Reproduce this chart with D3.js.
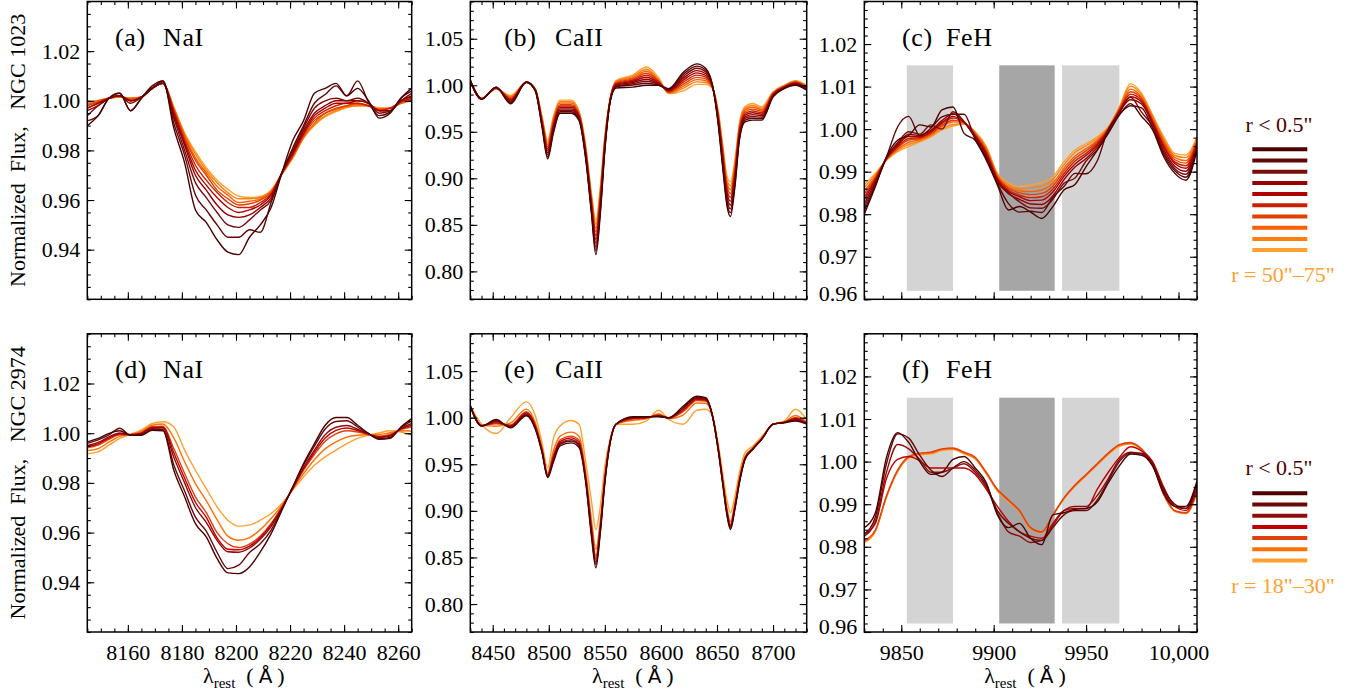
<!DOCTYPE html>
<html>
<head>
<meta charset="utf-8">
<script src="https://cdn.jsdelivr.net/npm/d3@7"></script>
<style>
body{margin:0;background:#fff;}
text{font-family:"Liberation Serif","Times New Roman",serif;}
</style>
</head>
<body>
<svg width="1369" height="693"></svg>
<script>
// wavelength grids (rest frame, Angstrom)
var waveNa = [8145,8149,8153,8157,8161,8165,8169,8173,8177,8181,8185,8189,8193,8197,8201,8205,8209,8213,8217,8221,8225,8229,8233,8237,8241,8245,8249,8253,8257,8261,8265];
var waveCa = [8430,8440,8453,8466,8480,8488,8494,8499,8504,8510,8520,8527,8533,8538,8542,8546,8550,8555,8560,8575,8587,8598,8607,8620,8632,8640,8646,8651,8655,8659,8662,8666,8670,8675,8682,8690,8700,8710,8720,8730];
var waveFe = [9830,9836,9842,9848,9854,9860,9866,9872,9878,9884,9890,9896,9902,9908,9914,9920,9926,9932,9938,9944,9950,9956,9962,9968,9974,9980,9986,9992,9998,10004,10010];

// NGC 1023 spectra, innermost (r<0.5") first, outermost last
var n1023Na = [
 [.990,.994,1.001,1.003,.996,1.001,1.006,1.008,.989,.975,.956,.951,.944,.939,.938,.945,.950,.957,.971,.984,.992,1.003,1.005,1.007,1.002,1.005,1.000,.993,.995,1.001,1.005],
 [.992,.994,1.001,1.003,.996,1.001,1.005,1.008,.991,.978,.962,.956,.950,.945,.945,.948,.947,.959,.971,.981,.990,.999,1.0025,1.006,1.002,1.008,.9995,.994,.9955,1.001,1.004],
 [.994,.998,1.001,1.002,.999,1.0015,1.005,1.0075,.993,.980,.967,.961,.955,.950,.949,.952,.956,.960,.971,.980,.989,.997,1.000,1.001,1.000,1.001,.999,.995,.996,1.000,1.003],
 [.996,.998,1.001,1.002,1.000,1.0015,1.005,1.007,.994,.982,.970,.964,.958,.954,.953,.954,.957,.961,.971,.979,.988,.995,.998,1.000,1.000,1.000,.999,.996,.996,1.000,1.002],
 [.997,.999,1.001,1.002,1.000,1.0015,1.005,1.007,.995,.983,.972,.966,.961,.957,.955,.956,.958,.962,.971,.979,.987,.994,.997,.999,.999,1.000,.999,.996,.996,1.000,1.0015],
 [.997,.999,1.001,1.002,1.000,1.0015,1.005,1.007,.996,.984,.974,.968,.963,.959,.957,.957,.959,.9625,.971,.978,.9865,.993,.996,.998,.999,.999,.998,.996,.997,.9995,1.001],
 [.998,.9995,1.001,1.002,1.0005,1.0015,1.005,1.007,.996,.985,.976,.970,.964,.9605,.958,.9585,.960,.963,.9705,.978,.986,.992,.995,.997,.998,.999,.998,.9965,.997,.9995,1.001],
 [.9985,1.000,1.001,1.0015,1.001,1.0015,1.005,1.007,.997,.986,.977,.971,.9655,.962,.959,.9595,.9605,.9635,.9705,.9775,.9855,.991,.995,.9965,.998,.9985,.998,.9965,.997,.999,1.0005],
 [.999,1.000,1.001,1.0015,1.001,1.0015,1.005,1.007,.997,.9865,.9785,.972,.967,.963,.9605,.9605,.961,.9635,.9705,.977,.985,.9905,.994,.996,.9975,.998,.998,.997,.997,.999,1.000],
 [.9995,1.000,1.001,1.0015,1.001,1.0015,1.005,1.007,.9975,.987,.9795,.973,.968,.9643,.9616,.961,.9614,.964,.9705,.977,.985,.990,.9936,.9956,.9973,.998,.998,.997,.997,.999,1.000]
];
var n1023Ca = [
 [1.005,.985,.998,.980,1.0035,.994,.955,.921,.948,.970,.970,.962,.920,.8625,.818,.8625,.930,.984,.997,.998,1.000,1.000,.9964,1.014,1.023,1.018,1.000,.959,.9125,.8696,.859,.891,.941,.9607,.9625,.9625,.9875,.9964,1.000,.9946],
 [1.005,.985,.998,.981,1.0035,.994,.956,.923,.950,.9715,.9715,.963,.9215,.865,.822,.8656,.9317,.9844,.9983,1.0003,1.0022,.9999,.9958,1.0119,1.0206,1.0161,.9996,.9605,.9153,.8731,.8631,.8941,.943,.9625,.9645,.9641,.9881,.9968,1.0006,.9952],
 [1.005,.9852,.9976,.982,1.0034,.9944,.9574,.9254,.952,.9731,.9731,.9642,.9231,.8672,.8261,.8688,.9333,.9848,.9992,1.0016,1.0043,1.0008,.9952,1.0097,1.0182,1.0143,.9992,.9621,.918,.8767,.8672,.8973,.945,.9643,.9664,.9657,.9887,.9972,1.0011,.9958],
 [1.005,.9853,.9973,.983,1.0033,.9947,.9586,.9276,.9539,.9746,.9746,.9653,.9246,.8696,.8302,.8719,.935,.9852,1.000,1.003,1.0065,1.0016,.9946,1.0076,1.0157,1.0124,.9988,.9636,.9208,.8802,.8713,.9004,.9469,.9661,.9684,.9673,.9893,.9976,1.0017,.9964],
 [1.005,.9854,.9971,.984,1.0033,.9949,.9598,.9298,.9559,.9762,.9762,.9664,.9262,.872,.8343,.875,.9366,.9855,1.0008,1.0043,1.0086,1.0025,.994,1.0055,1.0133,1.0105,.9984,.9652,.9235,.8838,.8755,.9036,.9489,.9679,.9704,.9689,.9899,.998,1.0022,.997],
 [1.005,.9856,.9969,.985,1.0032,.9951,.961,.932,.9579,.9777,.9777,.9675,.9277,.8743,.8384,.8782,.9383,.9859,1.0016,1.0056,1.0108,1.0034,.9934,1.0033,1.0109,1.0087,.998,.9667,.9263,.8873,.8796,.9067,.9509,.9697,.9723,.9705,.9905,.9984,1.0028,.9976],
 [1.005,.9857,.9967,.9859,1.0032,.9953,.9623,.9342,.9599,.9792,.9792,.9686,.9292,.8767,.8424,.8813,.9399,.9863,1.0025,1.0069,1.0129,1.0043,.9928,1.0012,1.0085,1.0068,.9976,.9682,.929,.8909,.8837,.9099,.9529,.9715,.9743,.9721,.9911,.9988,1.0033,.9982],
 [1.005,.9858,.9965,.9869,1.0031,.9955,.9635,.9364,.9619,.9808,.9808,.9697,.9308,.8791,.8465,.8844,.9416,.9867,1.0033,1.0082,1.0151,1.0052,.9922,.999,1.0061,1.0049,.9972,.9698,.9318,.8944,.8878,.913,.9549,.9733,.9763,.9737,.9917,.9992,1.0039,.9988],
 [1.005,.9859,.9962,.9879,1.0031,.9958,.9647,.9386,.9638,.9823,.9823,.9708,.9323,.8814,.8506,.8876,.9432,.9871,1.0041,1.0096,1.0172,1.006,.9916,.9969,1.0036,1.003,.9968,.9713,.9345,.8979,.8919,.9162,.9568,.9751,.9783,.9753,.9923,.9996,1.0044,.9994],
 [1.005,.986,.996,.989,1.003,.996,.966,.941,.966,.984,.984,.972,.934,.884,.855,.891,.945,.9875,1.005,1.011,1.0196,1.008,.991,.994,1.001,1.001,.9964,.973,.9375,.9018,.8964,.9196,.959,.977,.9804,.977,.993,1.000,1.005,1.000]
];
var n1023Fe = [
 [.980,.9865,.9935,.9974,.9985,1.001,1.0005,1.0045,1.0052,.999,.9974,.9927,.9869,.981,.9818,.9805,.979,.9818,.9857,.987,.9912,.995,.999,1.0033,1.006,1.003,.9998,.9935,.9896,.988,.9951],
 [.9808,.9869,.9934,1.0005,1.003,.9985,1.0002,1.0029,1.0035,1.0035,.9976,.9931,.9872,.9825,.9805,.9807,.9804,.984,.9865,.9896,.9895,.9925,1.000,1.0035,1.0055,1.005,1.0002,.9941,.9902,.9887,.9955],
 [.9817,.9872,.9933,.9968,.9994,.9988,1.001,1.000,1.0041,1.0018,.9979,.9935,.9875,.985,.9829,.9815,.9814,.9835,.9873,.9885,.9925,.9952,.9994,1.0038,1.0075,1.004,1.0006,.9946,.9907,.9894,.9958],
 [.9825,.9876,.9932,.9964,.9988,.9985,.9997,1.002,1.0036,1.0017,.9981,.9939,.9879,.9848,.9835,.9824,.9823,.9843,.9881,.9911,.9931,.9957,.9995,1.004,1.0069,1.0059,1.0011,.9952,.9913,.9901,.9962],
 [.9834,.988,.9931,.9961,.9983,.9982,.9994,1.0016,1.003,1.0016,.9984,.9942,.9882,.9853,.9841,.9832,.9833,.9852,.9889,.9918,.9938,.9962,.9997,1.0042,1.0076,1.0064,1.0015,.9958,.9919,.9908,.9966],
 [.9841,.9883,.993,.9958,.9978,.998,.9992,1.0013,1.0026,1.0015,.9986,.9946,.9885,.9857,.9845,.9839,.9841,.9859,.9895,.9925,.9943,.9966,.9999,1.0044,1.0082,1.0068,1.0018,.9962,.9923,.9914,.9969],
 [.9848,.9886,.993,.9956,.9974,.9978,.9989,1.0009,1.0021,1.0015,.9988,.9949,.9887,.9861,.985,.9846,.9849,.9866,.9902,.9931,.9949,.997,1.000,1.0046,1.0088,1.0072,1.0022,.9967,.9928,.992,.9972],
 [.9855,.9889,.9929,.9953,.9969,.9975,.9987,1.0006,1.0017,1.0014,.999,.9952,.989,.9864,.9855,.9853,.9857,.9873,.9908,.9937,.9954,.9973,1.0002,1.0048,1.0094,1.0075,1.0025,.9972,.9933,.9926,.9975],
 [.9863,.9893,.9928,.995,.9964,.9972,.9984,1.0001,1.0011,1.0013,.9992,.9956,.9893,.9869,.986,.9862,.9866,.9881,.9916,.9945,.9961,.9978,1.0004,1.005,1.0101,1.008,1.003,.9977,.9938,.9933,.9979],
 [.987,.9896,.9927,.9947,.9959,.997,.9982,.9998,1.0007,1.0012,.9994,.9959,.9896,.9873,.9865,.9869,.9874,.9888,.9923,.9951,.9966,.9982,1.0005,1.0052,1.0107,1.0084,1.0033,.9982,.9943,.9939,.9982]
];

// NGC 2974 spectra, innermost first
var n2974Na = [
 [.9965,.9979,.9999,1.001,.9992,.9992,1.0012,1.001,.9851,.9744,.9636,.9583,.9496,.9438,.9435,.9462,.9522,.9596,.969,.9784,.9878,.9958,1.0032,1.0063,1.0063,1.0032,.9999,.9975,.9979,1.0025,1.0059],
 [.9959,.9973,.9993,1.002,.9992,.9994,1.0015,1.0014,.9872,.9767,.9662,.9606,.9521,.9455,.9469,.952,.9555,.961,.9695,.9783,.9872,.9948,1.0017,1.0047,1.005,1.0025,.9998,.9978,.9983,1.0022,1.005],
 [.995,.9963,.9985,1.0001,.9993,.9998,1.002,1.0021,.9903,.980,.9701,.9641,.9569,.9523,.9521,.9538,.9573,.9624,.9698,.978,.9862,.9932,.9994,1.0024,1.0031,1.0016,.9997,.9983,.9988,1.0019,1.0039],
 [.9946,.9957,.998,.9998,.9994,1.000,1.0023,1.0024,.9921,.9819,.9722,.9661,.9579,.9533,.9531,.9546,.958,.9632,.9701,.9779,.9856,.9923,.9981,1.0011,1.0021,1.0011,.9996,.9985,.9991,1.0017,1.0032],
 [.9941,.9952,.9975,.9994,.9994,1.0002,1.0026,1.0028,.9938,.9838,.9744,.968,.960,.9555,.954,.9554,.9586,.9637,.9704,.9777,.9851,.9914,.9968,.9997,1.001,1.0005,.9995,.9988,.9995,1.0015,1.0025],
 [.993,.9938,.9964,.9987,.9995,1.0007,1.0032,1.0037,.9981,.9885,.9797,.9729,.9652,.9586,.9569,.958,.9612,.9657,.971,.9774,.9837,.9893,.9937,.9965,.9984,.9992,.9994,.9995,1.0002,1.001,1.0009],
 [.9918,.9925,.9952,.9979,.9996,1.0012,1.0039,1.0046,1.0025,.9932,.9851,.9777,.9704,.965,.9626,.963,.965,.9677,.9717,.9771,.9824,.9871,.9905,.9932,.9958,.9979,.9992,1.0001,1.001,1.0005,.9992]
];
var n2974Ca = [
 [1.0125,.991,.998,.989,1.002,.9875,.9625,.9357,.952,.9696,.973,.968,.930,.873,.839,.877,.930,.975,.993,1.001,1.001,1.001,1.000,1.0125,1.023,1.0214,1.0018,.966,.930,.8946,.880,.902,.930,.955,.966,.9768,.993,.9946,.9964,.993],
 [1.0125,.9912,.9968,.9899,1.0032,.9887,.9633,.9365,.954,.9713,.9749,.970,.9318,.876,.8423,.8793,.9314,.9753,.993,1.0004,1.0006,1.0016,.9998,1.0109,1.0218,1.0204,1.0018,.9666,.9309,.8959,.8814,.9031,.9309,.9556,.9663,.9771,.993,.9947,.9974,.9934],
 [1.0125,.9913,.9959,.9905,1.0041,.9895,.964,.9371,.9555,.9726,.9764,.9715,.9331,.8783,.8447,.881,.9325,.9755,.993,.9999,1.0004,1.002,.9997,1.0098,1.0209,1.0197,1.0018,.967,.9315,.8969,.8825,.904,.9315,.956,.9665,.9772,.993,.9949,.9982,.9937],
 [1.0125,.9914,.9947,.9914,1.0053,.9907,.9648,.938,.9575,.9743,.9783,.9735,.9348,.8814,.848,.8832,.934,.9758,.993,.9992,1.000,1.0025,.9996,1.0082,1.0197,1.0187,1.0018,.9675,.9324,.8982,.884,.9051,.9324,.9567,.9668,.9775,.993,.995,.9992,.9941],
 [1.0125,.9916,.9935,.9923,1.0065,.9919,.9657,.9388,.9595,.976,.9802,.9755,.9366,.8844,.8513,.8855,.9354,.9761,.993,.9986,.9996,1.0031,.9994,1.0067,1.0185,1.0177,1.0018,.9681,.9333,.8995,.8854,.9062,.9333,.9573,.9671,.9778,.993,.9951,1.0002,.9945],
 [1.0125,.992,.9908,.9943,1.0092,.9945,.9675,.9406,.964,.9799,.9845,.980,.9406,.8912,.8587,.8906,.9386,.9767,.993,.9972,.9988,1.0043,.999,1.0031,1.0158,1.0154,1.0018,.9694,.9353,.9025,.8886,.9087,.9353,.9586,.9677,.9783,.993,.9955,1.0024,.9954],
 [1.0125,.993,.983,1.000,1.017,1.002,.973,.946,.977,.991,.997,.993,.952,.911,.880,.9054,.948,.9786,.993,.993,.9964,1.0079,.998,.993,1.008,1.009,1.0018,.973,.941,.911,.898,.916,.941,.9625,.9696,.980,.993,.9964,1.009,.998]
];
var n2974Fe = [
 [.9845,.988,1.001,1.0068,1.0045,1.000,.997,.9975,1.0005,1.0012,.9985,.995,.9875,.9845,.9855,.982,.9805,.9875,.988,.9888,.989,.9905,.995,.999,1.0018,1.0015,.999,.9925,.9895,.9895,.9955],
 [.983,.987,.9995,1.0065,1.0055,1.0015,.998,.9965,.9985,1.000,.998,.9945,.9885,.9855,.9835,.982,.9815,.9845,.9875,.9885,.9885,.991,.9955,1.000,1.002,1.002,.9995,.9935,.990,.989,.9945],
 [.9825,.986,.9975,1.004,1.003,1.0005,.9975,.9975,.9985,.9995,.9975,.994,.988,.9835,.9825,.981,.9815,.985,.9885,.9895,.9895,.992,.996,1.0005,1.0022,1.0018,.999,.993,.9895,.989,.995],
 [.983,.9855,.996,1.0005,1.0012,1.0002,.9985,.9985,.9985,.9985,.997,.9935,.9895,.986,.9835,.9825,.982,.9855,.9885,.989,.989,.9935,.9975,1.001,1.0035,1.0025,1.000,.994,.9895,.9885,.9935],
 [.9815,.984,.992,.998,1.0012,1.002,1.0022,1.003,1.0032,1.0022,1.001,.9975,.9935,.991,.9885,.9845,.9835,.9875,.9915,.9945,.997,.9995,1.002,1.004,1.0045,1.003,.9995,.9925,.9885,.988,.993],
 [.9812,.9838,.9918,.9978,1.001,1.0018,1.002,1.0028,1.003,1.002,1.0008,.9973,.9933,.9908,.9883,.9843,.9834,.9874,.9913,.9943,.9968,.9993,1.0018,1.0038,1.0043,1.0028,.9993,.9923,.9884,.9879,.9928],
 [.981,.9836,.9916,.9976,1.0008,1.0016,1.0018,1.0026,1.0028,1.0018,1.0006,.9971,.9931,.9906,.9882,.9842,.9833,.9873,.9912,.9942,.9967,.9992,1.0017,1.0036,1.0041,1.0027,.9992,.9922,.9883,.9878,.9927]
];

var colors1023 = ['#4d0000','#620606','#7a0c0c','#960000','#b00000','#c82000','#e04000','#f86000','#ff8010','#ffa030'];
var colors2974 = ['#4d0000','#680808','#900c0c','#c00000','#e04010','#ff7000','#ffa030'];

var yTicksNa = [0.94,0.96,0.98,1.00,1.02];
var yTicksCa = [0.80,0.85,0.90,0.95,1.00,1.05];
var yTicksFe = [0.96,0.97,0.98,0.99,1.00,1.01,1.02];
var xTicksNa = [8160,8180,8200,8220,8240,8260];
var xTicksCa = [8450,8500,8550,8600,8650,8700];
var xTicksFe = [9850,9900,9950,10000];

// FeH index windows: side bands and central band
var feBandsSide = [[9853,9878],[9937,9968]];
var feBandCentral = [9903,9933];
var bandFlux = [0.962,1.015];

var svg = d3.select('svg');

var cols = [
  {left:87.3, right:411.7, wave:waveNa, xDom:[8145,8265], yDom:[0.92,1.04], yTicks:yTicksNa, yMinor:0.005, xTicks:xTicksNa, xMinor:5, ion:'NaI', labX:[115,163]},
  {left:470.3, right:806.7, wave:waveCa, xDom:[8430,8730], yDom:[0.77,1.09], yTicks:yTicksCa, yMinor:0.01, xTicks:xTicksCa, xMinor:10, ion:'CaII', labX:[504.3,555]},
  {left:864.3, right:1197, wave:waveFe, xDom:[9830,10010], yDom:[0.96,1.03], yTicks:yTicksFe, yMinor:0.002, xTicks:xTicksFe, xMinor:10, ion:'FeH', labX:[902,946], bands:true}
];
var rows = [
  {top:1.5, bottom:299.3, galaxy:'NGC 1023', spectra:[n1023Na,n1023Ca,n1023Fe], colors:colors1023, letters:['a','b','c'], legTop:131.7, legLine:149.3, legBot:281.7, outer:'r = 50"\u201375"', xlabels:false},
  {top:333.8, bottom:632, galaxy:'NGC 2974', spectra:[n2974Na,n2974Ca,n2974Fe], colors:colors2974, letters:['d','e','f'], legTop:475, legLine:493.3, legBot:592.7, outer:'r = 18"\u201330"', xlabels:true}
];

function minorVals(dom, step){
  var k0 = Math.ceil(dom[0]/step - 1e-6), k1 = Math.floor(dom[1]/step + 1e-6);
  return d3.range(k0, k1+1).map(k => +(k*step).toFixed(4));
}

function styleAxis(g){
  g.select('.domain').remove();
  g.selectAll('line').attr('stroke','#000').attr('stroke-width',1.1);
  g.attr('font-family',null).attr('font-size',22);
  g.selectAll('text').attr('fill','#000');
}

var defs = svg.append('defs');

rows.forEach(function(row, ri){
  cols.forEach(function(col, ci){
    var x = d3.scaleLinear().domain(col.xDom).range([col.left, col.right]);
    var y = d3.scaleLinear().domain(col.yDom).range([row.bottom, row.top]);
    var id = 'clip' + ri + ci;
    defs.append('clipPath').attr('id', id).append('rect')
      .attr('x', col.left).attr('y', row.top)
      .attr('width', col.right - col.left).attr('height', row.bottom - row.top);

    var panel = svg.append('g');

    if (col.bands) {
      panel.selectAll('rect.side').data(feBandsSide).enter().append('rect')
        .attr('x', d => x(d[0])).attr('width', d => x(d[1]) - x(d[0]))
        .attr('y', y(bandFlux[1])).attr('height', y(bandFlux[0]) - y(bandFlux[1]))
        .attr('fill', '#d4d4d4');
      panel.append('rect')
        .attr('x', x(feBandCentral[0])).attr('width', x(feBandCentral[1]) - x(feBandCentral[0]))
        .attr('y', y(bandFlux[1])).attr('height', y(bandFlux[0]) - y(bandFlux[1]))
        .attr('fill', '#a6a6a6');
    }

    var line = d3.line()
      .x((d,i) => x(col.wave[i]))
      .y(d => y(d))
      .curve(d3.curveMonotoneX);

    // outer bins drawn first so the central spectra sit on top
    var spec = row.spectra[ci].map((v,i) => ({v:v, c:row.colors[i]})).reverse();
    panel.append('g').attr('clip-path', 'url(#' + id + ')')
      .selectAll('path').data(spec).enter().append('path')
      .attr('d', d => line(d.v))
      .attr('fill', 'none')
      .attr('stroke', d => d.c)
      .attr('stroke-width', 1.4)
      .attr('stroke-linejoin', 'round');

    // ticks inside on all four sides
    var gl = panel.append('g').attr('transform', 'translate(' + col.left + ',0)');
    gl.call(d3.axisLeft(y).tickValues(col.yTicks).tickSize(-7).tickPadding(7).tickFormat(d3.format('.2f')));
    styleAxis(gl);
    gl.selectAll('.tick').filter(d => y(d) > row.bottom - 2).select('text').attr('y', -6);
    var glm = panel.append('g').attr('transform', 'translate(' + col.left + ',0)');
    glm.call(d3.axisLeft(y).tickValues(minorVals(col.yDom, col.yMinor)).tickSize(-3.5).tickFormat(''));
    styleAxis(glm);

    [7, 3.5].forEach(function(sz, k){
      var vals = k ? minorVals(col.yDom, col.yMinor) : col.yTicks;
      var gr = panel.append('g').attr('transform', 'translate(' + col.right + ',0)');
      gr.call(d3.axisRight(y).tickValues(vals).tickSize(-sz).tickFormat(''));
      styleAxis(gr);
      var xv = k ? minorVals(col.xDom, col.xMinor) : col.xTicks;
      var gt = panel.append('g').attr('transform', 'translate(0,' + row.top + ')');
      gt.call(d3.axisTop(x).tickValues(xv).tickSize(-sz).tickFormat(''));
      styleAxis(gt);
      var gb = panel.append('g').attr('transform', 'translate(0,' + row.bottom + ')');
      gb.call(d3.axisBottom(x).tickValues(xv).tickSize(-sz)
        .tickFormat(!k && row.xlabels ? (d => d >= 10000 ? d3.format(',')(d) : String(d)) : ''));
      styleAxis(gb);
      gb.selectAll('text').attr('y', 28).attr('dy', null);
    });

    panel.append('rect')
      .attr('x', col.left).attr('y', row.top)
      .attr('width', col.right - col.left).attr('height', row.bottom - row.top)
      .attr('fill', 'none').attr('stroke', '#000').attr('stroke-width', 1.5);

    // panel label
    panel.append('text').attr('x', col.labX[0]).attr('y', row.top + 44.2)
      .attr('font-size', 26).attr('letter-spacing', 0.6).text('(' + row.letters[ci] + ')');
    panel.append('text').attr('x', col.labX[1]).attr('y', row.top + 44.2)
      .attr('font-size', 26).attr('letter-spacing', 0.6).text(col.ion);

    if (row.xlabels) {
      var cx = (col.left + col.right) / 2;
      var t = svg.append('text').attr('x', cx - 46.5).attr('y', 683).attr('font-size', 22);
      t.append('tspan').text('\u03bb');
      t.append('tspan').attr('font-size', 15).attr('dy', 5).text('rest');
      t.append('tspan').attr('dy', -5).attr('dx', 11).text('(');
      t.append('tspan').attr('dx', 5).style('font-family', '"DejaVu Sans",sans-serif').attr('font-size', 20).text('\u00c5');
      t.append('tspan').attr('dx', 5).text(')');
    }
  });

  // y title
  svg.append('text')
    .attr('transform', 'translate(25,' + ((row.top + row.bottom) / 2) + ') rotate(-90)')
    .attr('text-anchor', 'middle').attr('font-size', 22)
    .style('white-space', 'pre')
    .text('Normalized  Flux,   ' + row.galaxy);

  // legend
  var lg = svg.append('g');
  lg.append('text').attr('x', 1279).attr('y', row.legTop).attr('text-anchor', 'middle')
    .attr('font-size', 22).attr('fill', row.colors[0]).text('r < 0.5"');
  lg.selectAll('line').data(row.colors).enter().append('line')
    .attr('x1', 1252.3).attr('x2', 1307.3)
    .attr('y1', (d,i) => row.legLine + i * 11.2).attr('y2', (d,i) => row.legLine + i * 11.2)
    .attr('stroke', d => d).attr('stroke-width', 4);
  lg.append('text').attr('x', 1283).attr('y', row.legBot).attr('text-anchor', 'middle')
    .attr('font-size', 22).attr('fill', row.colors[row.colors.length - 1]).text(row.outer);
});
</script>
</body>
</html>
